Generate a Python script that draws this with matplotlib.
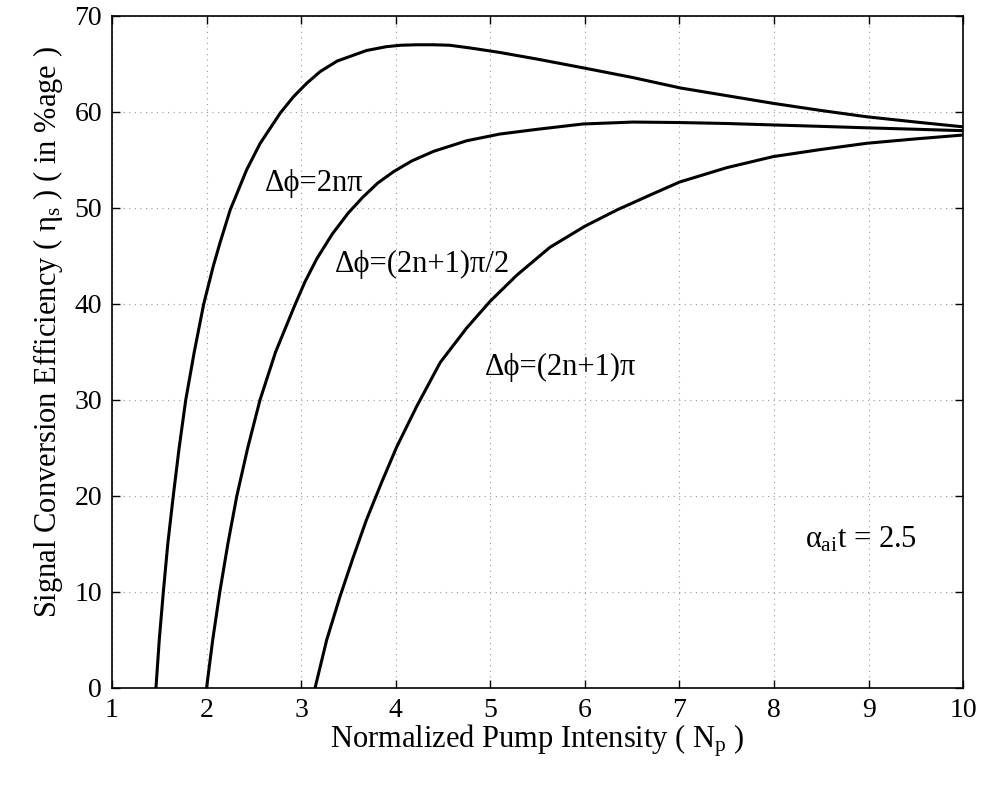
import matplotlib
matplotlib.use("Agg")
import matplotlib.pyplot as plt

plt.rcParams['font.family'] = ['Liberation Serif', 'DejaVu Serif']
plt.rcParams['mathtext.fontset'] = 'custom'
plt.rcParams['mathtext.rm'] = 'Liberation Serif'
plt.rcParams['mathtext.it'] = 'Liberation Serif'
plt.rcParams['mathtext.bf'] = 'Liberation Serif:bold'

# Δφ = 2nπ
x_2n = [1.465, 1.50, 1.543, 1.59, 1.648, 1.71, 1.78, 1.87, 1.97, 2.07, 2.14, 2.25, 2.425,
        2.565, 2.78, 2.92, 3.06, 3.20, 3.38, 3.69, 3.90, 4.05, 4.22, 4.40, 4.57, 4.80,
        5.10, 5.50, 5.98, 6.50, 7.01, 7.50, 7.99, 8.50, 8.98, 9.50, 10.0]
y_2n = [0.0, 5.0, 10.0, 15.0, 20.0, 25.0, 30.0, 35.0, 40.0, 43.9, 46.3, 49.8, 54.0,
        56.7, 59.9, 61.6, 63.0, 64.2, 65.3, 66.4, 66.8, 66.95, 67.0, 67.0, 66.95, 66.65,
        66.2, 65.5, 64.6, 63.6, 62.5, 61.7, 60.9, 60.15, 59.5, 58.95, 58.45]

# Δφ = (2n+1)π/2
x_half = [2.0, 2.065, 2.14, 2.225, 2.32, 2.435, 2.565, 2.73, 2.93, 3.04, 3.165, 3.33,
          3.50, 3.65, 3.81, 3.98, 4.17, 4.40, 4.75, 5.10, 5.50, 5.98, 6.51, 7.0, 7.5,
          7.99, 8.5, 8.98, 9.5, 10.0]
y_half = [0.0, 5.0, 10.0, 15.0, 20.0, 25.0, 30.0, 35.0, 39.8, 42.3, 44.7, 47.3,
          49.5, 51.1, 52.6, 53.8, 54.9, 55.9, 57.0, 57.7, 58.2, 58.75, 58.95, 58.9, 58.8,
          58.65, 58.5, 58.35, 58.2, 58.05]

# Δφ = (2n+1)π
x_odd = [3.147, 3.27, 3.41, 3.55, 3.69, 3.85, 4.01, 4.22, 4.47, 4.75, 5.0, 5.28, 5.63,
         6.0, 6.34, 6.69, 7.0, 7.5, 7.99, 8.5, 8.98, 9.5, 10.0]
y_odd = [0.0, 5.0, 9.5, 13.6, 17.5, 21.4, 25.1, 29.3, 33.9, 37.5, 40.3, 43.0, 45.9,
         48.1, 49.8, 51.35, 52.7, 54.2, 55.35, 56.1, 56.74, 57.2, 57.6]

x_ticks = [1, 2, 3, 4, 5, 6, 7, 8, 9, 10]
y_ticks = [0, 10, 20, 30, 40, 50, 60, 70]

fig = plt.figure(figsize=(9.83, 7.87), dpi=100)
ax = fig.add_axes([0.1139, 0.1258, 0.866, 0.8539])

for xs, ys in [(x_2n, y_2n), (x_half, y_half), (x_odd, y_odd)]:
    ax.plot(xs, ys, color='black', lw=2.2, solid_joinstyle='round')

ax.set_xlim(1, 10)
ax.set_ylim(0, 70)
ax.set_xticks(x_ticks)
ax.set_yticks(y_ticks)
ax.grid(True, linestyle=(0, (1, 4)), color='#999999', lw=0.8)
ax.tick_params(direction='in', length=6, width=1, top=True, right=True,
               labelsize=20, pad=7)
for s in ax.spines.values():
    s.set_linewidth(1.2)

ax.set_xlabel(r"Normalized Pump Intensity ( N$_{\rm p}$ )", fontsize=22, labelpad=0)
ax.set_ylabel(r"Signal Conversion Efficiency ( $\eta_{\rm s}$ ) ( in %age )", fontsize=22)
ax.yaxis.set_label_coords(-0.055, 0.53)

fs = 22
ax.text(2.62, 52.6, "Δϕ=2nπ", fontsize=fs, va='center', ha='left')
ax.text(3.36, 44.1, "Δϕ=(2n+1)π/2", fontsize=fs, va='center', ha='left')
ax.text(4.94, 33.4, "Δϕ=(2n+1)π", fontsize=fs, va='center', ha='left')
ax.text(8.33, 15.4, r"$\alpha_{\rm ai}$t = 2.5", fontsize=fs, va='center', ha='left')

fig.savefig("out.png", dpi=100)
